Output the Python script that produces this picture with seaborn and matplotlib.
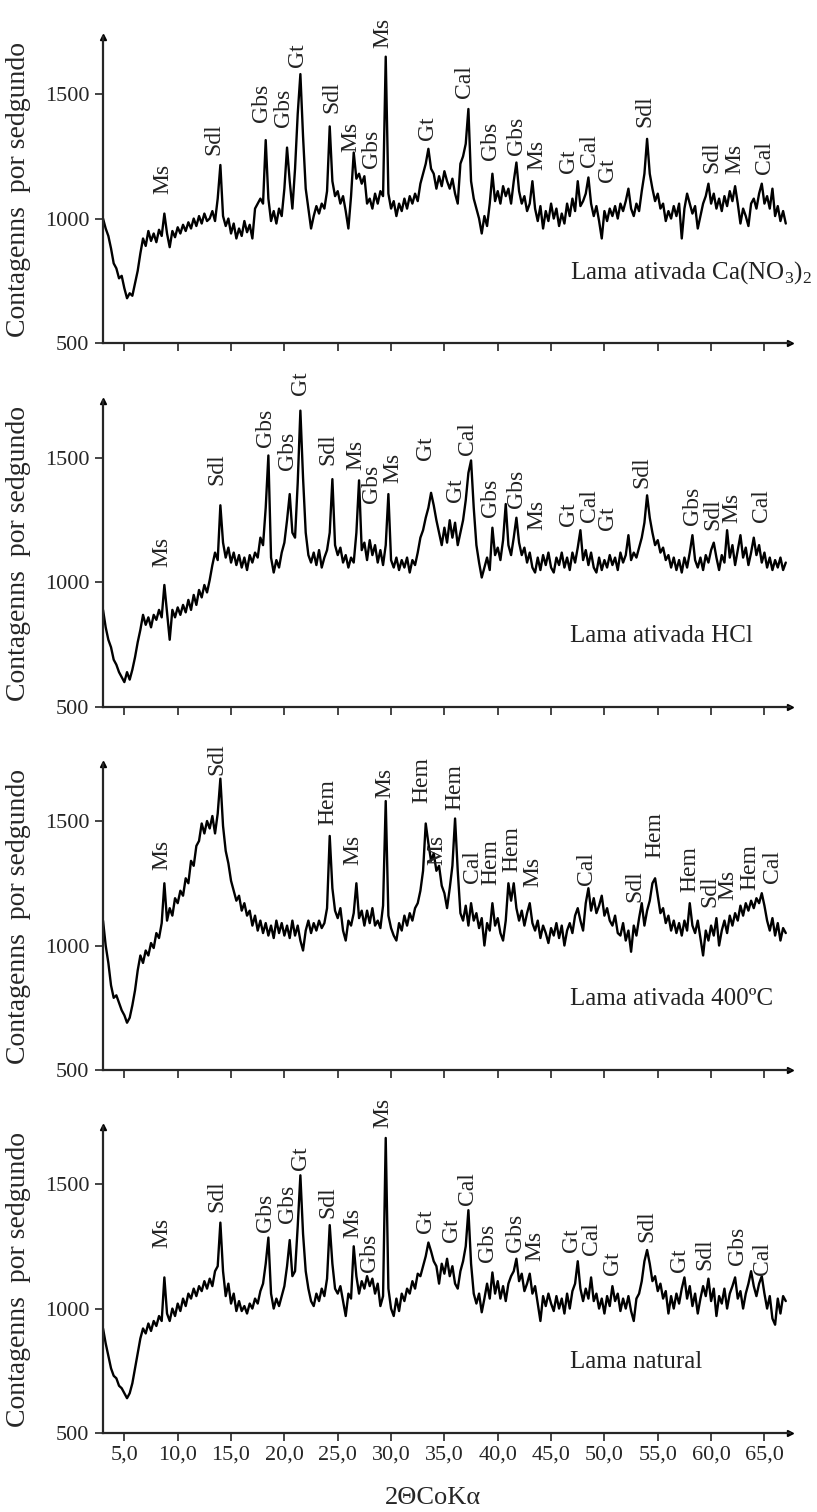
import numpy as np
import matplotlib
matplotlib.use("Agg")
import matplotlib.pyplot as plt
import seaborn as sns

# ==========================
# DATA (0.25 deg steps)
# ==========================
two_theta = np.arange(3.0, 67.0001, 0.25)

# Lama ativada Ca(NO3)2
counts_cano3 = [
    1000, 960, 930, 880, 820, 800, 760, 770, 720, 680, 700, 690, 740, 790, 860, 920, 890, 950, 910, 940,
    905, 955, 930, 1020, 940, 885, 950, 925, 965, 940, 975, 950, 985, 960, 1000, 970, 1010, 980, 1020, 990,
    1000, 1030, 990, 1080, 1215, 1010, 970, 1000, 940, 980, 920, 960, 930, 990, 945, 975, 920, 1040, 1060, 1080,
    1060, 1315, 1080, 990, 1030, 980, 1040, 1010, 1120, 1285, 1150, 1040, 1200, 1420, 1580, 1330, 1120, 1040, 960, 1010,
    1050, 1020, 1060, 1040, 1110, 1370, 1150, 1090, 1110, 1060, 1090, 1030, 960, 1090, 1265, 1160, 1180, 1140, 1170, 1060,
    1080, 1040, 1100, 1060, 1110, 1090, 1650, 1100, 1040, 1070, 1010, 1060, 1030, 1080, 1040, 1090, 1060, 1100, 1070, 1140,
    1180, 1220, 1280, 1200, 1180, 1120, 1170, 1130, 1190, 1150, 1120, 1160, 1100, 1060, 1220, 1250, 1300, 1440, 1150, 1080,
    1040, 1000, 940, 1010, 970, 1060, 1180, 1070, 1110, 1060, 1130, 1090, 1120, 1060, 1150, 1225, 1110, 1060, 1090, 1030,
    1060, 1150, 1040, 990, 1050, 960, 1030, 990, 1060, 1000, 1040, 970, 1020, 980, 1060, 1010, 1080, 1030, 1150, 1050,
    1070, 1100, 1165, 1060, 1010, 1050, 990, 920, 1030, 990, 1040, 1010, 1050, 1000, 1060, 1030, 1070, 1120, 1040, 1010,
    1060, 1030, 1110, 1180, 1320, 1180, 1120, 1070, 1100, 1040, 1060, 990, 1030, 1000, 1050, 1010, 1060, 920, 1040, 1100,
    1060, 1020, 1050, 960, 1010, 1060, 1090, 1140, 1060, 1100, 1040, 1080, 1030, 1090, 1050, 1110, 1070, 1130, 1060, 980,
    1040, 1010, 970, 1060, 1080, 1040, 1100, 1140, 1060, 1090, 1040, 1120, 1010, 1050, 990, 1030, 980,
]

# Lama ativada HCl
counts_hcl = [
    890, 820, 770, 740, 690, 670, 640, 620, 600, 640, 610, 650, 700, 760, 810, 870, 830, 860, 820, 870,
    850, 890, 860, 990, 880, 770, 890, 860, 900, 870, 910, 880, 930, 890, 950, 910, 970, 940, 990, 960,
    1010, 1070, 1120, 1090, 1310, 1160, 1100, 1140, 1080, 1120, 1070, 1110, 1060, 1100, 1050, 1110, 1080, 1120, 1100, 1180,
    1150, 1300, 1510, 1100, 1040, 1090, 1060, 1120, 1160, 1250, 1355, 1200, 1180, 1400, 1690, 1420, 1200, 1110, 1080, 1120,
    1070, 1130, 1060, 1100, 1130, 1200, 1415, 1150, 1110, 1140, 1080, 1110, 1060, 1100, 1080, 1200, 1410, 1130, 1160, 1090,
    1170, 1110, 1150, 1080, 1130, 1070, 1150, 1355, 1090, 1060, 1100, 1050, 1090, 1060, 1100, 1040, 1090, 1070, 1120, 1180,
    1210, 1260, 1300, 1360, 1310, 1250, 1200, 1150, 1220, 1160, 1250, 1180, 1240, 1150, 1200, 1250, 1330, 1440, 1490, 1300,
    1150, 1080, 1020, 1060, 1100, 1050, 1220, 1110, 1140, 1090, 1170, 1315, 1150, 1110, 1180, 1260, 1160, 1110, 1140, 1080,
    1120, 1060, 1040, 1100, 1050, 1110, 1070, 1120, 1060, 1040, 1100, 1070, 1120, 1060, 1100, 1050, 1120, 1080, 1140, 1210,
    1090, 1130, 1070, 1120, 1060, 1040, 1100, 1050, 1090, 1060, 1110, 1070, 1100, 1050, 1120, 1080, 1110, 1190, 1090, 1120,
    1100, 1140, 1180, 1240, 1350, 1260, 1200, 1150, 1170, 1120, 1140, 1090, 1110, 1060, 1100, 1050, 1090, 1040, 1100, 1060,
    1120, 1190, 1090, 1060, 1100, 1050, 1110, 1080, 1130, 1160, 1100, 1050, 1110, 1080, 1210, 1100, 1150, 1070, 1130, 1190,
    1100, 1140, 1070, 1120, 1180, 1110, 1150, 1080, 1120, 1060, 1100, 1050, 1090, 1060, 1100, 1050, 1080,
]

# Lama ativada 400 C
counts_400 = [
    1100, 1000, 930, 840, 790, 800, 770, 740, 720, 690, 710, 760, 820, 900, 960, 930, 980, 960, 1010, 990,
    1050, 1030, 1090, 1250, 1100, 1150, 1120, 1190, 1170, 1220, 1200, 1270, 1250, 1340, 1320, 1400, 1420, 1490, 1450, 1500,
    1470, 1520, 1450, 1530, 1670, 1480, 1380, 1330, 1260, 1220, 1180, 1200, 1140, 1170, 1120, 1140, 1080, 1120, 1060, 1100,
    1050, 1090, 1040, 1080, 1030, 1100, 1050, 1090, 1040, 1080, 1030, 1100, 1040, 1080, 1020, 980, 1060, 1100, 1050, 1090,
    1060, 1100, 1070, 1090, 1150, 1440, 1230, 1140, 1110, 1150, 1060, 1020, 1100, 1080, 1130, 1250, 1110, 1140, 1080, 1140,
    1090, 1150, 1080, 1100, 1070, 1160, 1580, 1120, 1070, 1040, 1020, 1090, 1060, 1120, 1080, 1130, 1100, 1150, 1170, 1220,
    1300, 1490, 1410, 1340, 1370, 1300, 1320, 1240, 1210, 1150, 1230, 1320, 1510, 1300, 1130, 1100, 1160, 1080, 1170, 1100,
    1130, 1070, 1110, 1000, 1090, 1060, 1170, 1080, 1110, 1050, 1020, 1100, 1250, 1180, 1250, 1150, 1100, 1140, 1080, 1130,
    1170, 1090, 1060, 1100, 1030, 1080, 1050, 1010, 1070, 1040, 1090, 1030, 1080, 1000, 1060, 1090, 1050, 1120, 1150, 1100,
    1060, 1170, 1230, 1140, 1190, 1130, 1160, 1200, 1120, 1150, 1100, 1080, 1120, 1050, 1040, 1090, 1020, 1060, 975, 1080,
    1040, 1110, 1170, 1080, 1140, 1180, 1250, 1270, 1200, 1130, 1150, 1090, 1120, 1060, 1100, 1050, 1090, 1040, 1100, 1060,
    1170, 1080, 1050, 1100, 1030, 960, 1060, 1020, 1080, 1040, 1110, 1000, 1060, 1100, 1050, 1120, 1080, 1130, 1100, 1160,
    1120, 1170, 1140, 1180, 1150, 1190, 1170, 1210, 1160, 1100, 1060, 1110, 1040, 1090, 1020, 1070, 1050,
]

# Lama natural
counts_natural = [
    920, 860, 810, 760, 730, 720, 690, 680, 660, 640, 660, 700, 760, 820, 880, 920, 900, 940, 910, 950,
    930, 970, 950, 1125, 980, 950, 1000, 970, 1020, 990, 1040, 1010, 1060, 1040, 1080, 1050, 1090, 1070, 1110, 1080,
    1120, 1090, 1150, 1170, 1345, 1150, 1050, 1100, 1020, 1060, 990, 1030, 990, 1010, 980, 1020, 1000, 1040, 1020, 1070,
    1100, 1180, 1285, 1060, 1000, 1040, 1010, 1050, 1090, 1170, 1275, 1130, 1150, 1330, 1535, 1300, 1150, 1080, 1030, 1010,
    1060, 1030, 1080, 1050, 1120, 1335, 1180, 1080, 1060, 1090, 1030, 970, 1060, 1040, 1250, 1130, 1060, 1110, 1080, 1130,
    1090, 1120, 1060, 1100, 1010, 1050, 1685, 1080, 1000, 970, 1040, 990, 1060, 1030, 1080, 1060, 1110, 1080, 1140, 1130,
    1170, 1210, 1265, 1230, 1190, 1170, 1100, 1180, 1140, 1200, 1130, 1170, 1100, 1080, 1150, 1190, 1250, 1395, 1180, 1060,
    1020, 1060, 985, 1040, 1100, 1040, 1145, 1060, 1110, 1040, 1090, 1030, 1100, 1130, 1150, 1200, 1110, 1140, 1070, 1100,
    1140, 1060, 1090, 1020, 950, 1050, 1010, 1060, 1020, 990, 1050, 1000, 1040, 980, 1060, 1000, 1070, 1100, 1190, 1080,
    1030, 1080, 1040, 1125, 1030, 1060, 1000, 1040, 980, 1050, 1010, 1090, 1030, 1060, 990, 1040, 1000, 1050, 990, 950,
    1040, 1060, 1110, 1190, 1235, 1180, 1110, 1130, 1070, 1100, 1040, 1070, 980, 1050, 1000, 1060, 1020, 1080, 1125, 1040,
    1090, 1010, 1060, 980, 1040, 1090, 1050, 1120, 1030, 1080, 970, 1050, 1020, 1080, 1000, 1060, 1090, 1125, 1040, 1070,
    1000, 1060, 1100, 1150, 1090, 1050, 1100, 1130, 1060, 1000, 1050, 960, 935, 1040, 980, 1050, 1030,
]

sample_names = [
    r"Lama ativada Ca(NO$_\mathregular{3}$)$_\mathregular{2}$",
    "Lama ativada HCl",
    "Lama ativada 400ºC",
    "Lama natural",
]

# peak labels: mineral, 2theta, bottom of the text (counts)
labels_cano3 = ["Ms", "Sdl", "Gbs", "Gbs", "Gt", "Sdl", "Ms", "Gbs", "Ms", "Gt", "Cal", "Gbs", "Gbs", "Ms",
                "Gt", "Cal", "Gt", "Sdl", "Sdl", "Ms", "Cal"]
pos_cano3 = [8.65, 13.35, 17.9, 19.9, 21.2, 24.45, 26.2, 28.2, 29.25, 33.45, 36.9, 39.3, 41.8, 43.7,
             46.6, 48.6, 50.3, 53.8, 60.05, 62.2, 65.0]
top_cano3 = [1100, 1255, 1388, 1368, 1608, 1424, 1267, 1203, 1685, 1315, 1484, 1235, 1255, 1195,
             1183, 1207, 1147, 1368, 1183, 1180, 1180]

labels_hcl = ["Ms", "Sdl", "Gbs", "Gbs", "Gt", "Sdl", "Ms", "Gbs", "Ms", "Gt", "Gt", "Cal", "Gbs", "Gbs",
              "Ms", "Gt", "Cal", "Gt", "Sdl", "Gbs", "Sdl", "Ms", "Cal"]
pos_hcl = [8.55, 13.7, 18.2, 20.3, 21.5, 24.1, 26.7, 28.2, 30.2, 33.2, 36.0, 37.2, 39.3, 41.8,
           43.7, 46.6, 48.6, 50.3, 53.5, 58.3, 60.2, 61.9, 64.7]
top_hcl = [1062, 1392, 1544, 1452, 1753, 1472, 1452, 1319, 1400, 1492, 1323, 1512, 1263, 1299,
           1211, 1227, 1243, 1211, 1379, 1231, 1211, 1239, 1243]

labels_400 = ["Ms", "Sdl", "Hem", "Ms", "Ms", "Hem", "Ms", "Hem", "Cal", "Hem", "Hem", "Ms", "Cal",
              "Sdl", "Hem", "Hem", "Sdl", "Ms", "Hem", "Cal"]
pos_400 = [8.55, 13.7, 24.1, 26.45, 29.45, 32.9, 34.3, 36.0, 37.6, 39.35, 41.3, 43.3, 48.35,
           52.85, 54.7, 58.0, 59.85, 61.55, 63.6, 65.8]
top_400 = [1303, 1685, 1484, 1323, 1592, 1572, 1323, 1544, 1251, 1243, 1295, 1235, 1243,
           1175, 1351, 1215, 1155, 1183, 1223, 1251]

labels_natural = ["Ms", "Sdl", "Gbs", "Gbs", "Gt", "Sdl", "Ms", "Gbs", "Ms", "Gt", "Gt", "Cal", "Gbs",
                  "Gbs", "Ms", "Gt", "Cal", "Gt", "Sdl", "Gt", "Sdl", "Gbs", "Cal"]
pos_natural = [8.55, 13.7, 18.2, 20.3, 21.5, 24.1, 26.45, 28.0, 29.25, 33.2, 35.7, 37.2, 39.0,
               41.7, 43.5, 46.95, 48.8, 50.8, 54.0, 57.05, 59.4, 62.5, 64.8]
top_natural = [1243, 1388, 1307, 1343, 1556, 1363, 1283, 1147, 1725, 1303, 1267, 1416, 1187,
               1227, 1191, 1227, 1215, 1135, 1267, 1147, 1155, 1175, 1135]

x_ticks = [5, 10, 15, 20, 25, 30, 35, 40, 45, 50, 55, 60, 65]
x_tick_labels = ["5,0", "10,0", "15,0", "20,0", "25,0", "30,0", "35,0",
                 "40,0", "45,0", "50,0", "55,0", "60,0", "65,0"]
y_ticks = [500, 1000, 1500]

panels = [
    (counts_cano3, labels_cano3, pos_cano3, top_cano3),
    (counts_hcl, labels_hcl, pos_hcl, top_hcl),
    (counts_400, labels_400, pos_400, top_400),
    (counts_natural, labels_natural, pos_natural, top_natural),
]

# ==========================
# STYLE
# ==========================
sns.set_style("ticks")
plt.rcParams["font.family"] = ["Liberation Serif", "DejaVu Serif"]
plt.rcParams["mathtext.fontset"] = "custom"
plt.rcParams["mathtext.rm"] = "Liberation Serif"

fig = plt.figure(figsize=(8.17, 15.12), dpi=100)

left, width, height = 0.1261, 0.8409, 0.2026
bottoms = [0.7731, 0.5324, 0.2923, 0.0522]

for i, (counts, names, pos, tops) in enumerate(panels):
    ax = fig.add_axes([left, bottoms[i], width, height])

    sns.lineplot(x=two_theta, y=counts, ax=ax, color="black",
                 linewidth=1.7, estimator=None)

    ax.set_xlim(3.0, 67.4)
    ax.set_ylim(500, 1730)

    for name, px, py in zip(names, pos, tops):
        ax.text(px, py, name, rotation=90, ha="center", va="bottom",
                fontsize=17, color="#222222", clip_on=False)

    ax.text(46.8, 760, sample_names[i], ha="left", va="baseline",
            fontsize=18, color="#222222")

    ax.set_yticks(y_ticks)
    ax.set_yticklabels([str(t) for t in y_ticks], fontsize=16)
    ax.set_xticks(x_ticks)
    if i == 3:
        ax.set_xticklabels(x_tick_labels, fontsize=16)
    else:
        ax.set_xticklabels([])

    ax.tick_params(axis="y", length=6, width=1.2, pad=4)
    ax.tick_params(axis="x", length=6, width=1.2, pad=3)

    sns.despine(ax=ax)
    ax.spines["left"].set_linewidth(1.6)
    ax.spines["bottom"].set_linewidth(1.6)

    # arrow heads on the axes
    ax.plot(0, 1, marker="^", color="black", markersize=4,
            transform=ax.transAxes, clip_on=False)
    ax.plot(1, 0, marker=">", color="black", markersize=4,
            transform=ax.transAxes, clip_on=False)

    ax.set_xlabel("")
    ax.set_ylabel("Contagenns  por sedgundo", fontsize=20)
    ax.yaxis.set_label_coords(-0.105, 0.5)

fig.text(0.53, 0.009, "2ΘCoKα", ha="center", va="center", fontsize=19)

fig.savefig("out.png", dpi=100)
